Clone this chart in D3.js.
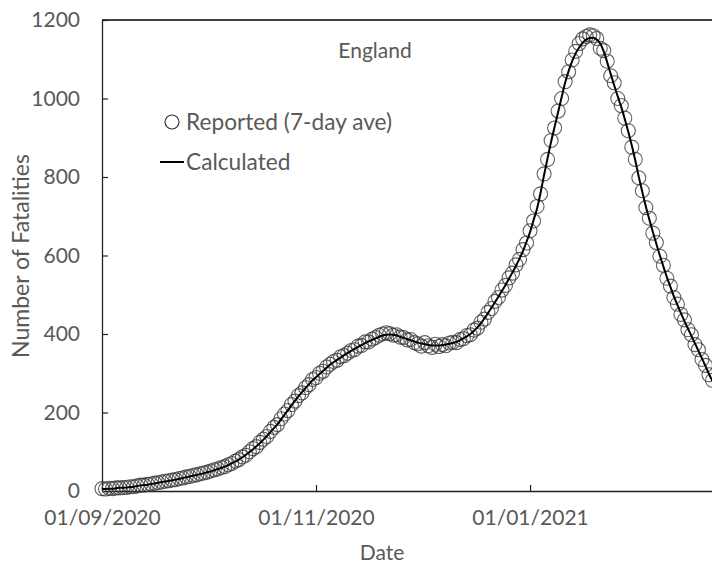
<!DOCTYPE html>
<html>
<head>
<meta charset="utf-8">
<script src="https://cdn.jsdelivr.net/npm/d3@7"></script>
<style>
  body { margin: 0; background: #fff; }
  text { font-family: Lato, "Open Sans", sans-serif; fill: #595959; }
</style>
</head>
<body>
<div id="chart"></div>
<script>
// first day of both series, one value per day after it
let startDate = new Date(2020, 8, 1);

// reported deaths, 7-day average
let reported = [
    6, 5, 7, 6, 8, 8, 9, 9, 11, 11,
    13, 15, 15, 17, 18, 20, 21, 23, 25, 26,
    28, 29, 32, 33, 36, 37, 40, 41, 44, 46,
    48, 51, 54, 56, 60, 62, 67, 70, 76, 80,
    87, 91, 100, 108, 113, 124, 132, 139, 152, 162,
    169, 184, 196, 205, 220, 229, 243, 250, 263, 271,
    284, 289, 300, 305, 316, 323, 330, 333, 342, 345,
    351, 358, 360, 369, 371, 380, 380, 387, 391, 397,
    400, 403, 401, 397, 398, 392, 391, 385, 386, 378,
    375, 369, 378, 370, 366, 374, 368, 373, 370, 377,
    379, 378, 386, 388, 396, 398, 410, 415, 430, 438,
    455, 465, 483, 493, 512, 524, 543, 555, 576, 590,
    615, 632, 663, 688, 725, 757, 808, 845, 893, 925,
    968, 1000, 1043, 1068, 1098, 1120, 1140, 1152, 1158, 1162,
    1160, 1153, 1128, 1122, 1095, 1058, 1040, 1000, 982, 950,
    918, 876, 845, 798, 765, 722, 695, 657, 633, 598,
    575, 542, 522, 493, 476, 450, 436, 411, 398, 373,
    360, 335, 320, 296, 282
];

// model output
let calculated = [
    5, 5, 6, 6, 7, 8, 8, 9, 10, 11,
    13, 14, 15, 16, 18, 19, 21, 23, 24, 26,
    27, 29, 31, 33, 35, 37, 39, 41, 43, 45,
    48, 50, 53, 56, 59, 62, 66, 71, 75, 80,
    86, 92, 99, 106, 114, 122, 131, 140, 150, 160,
    170, 182, 194, 206, 218, 230, 241, 252, 262, 272,
    282, 290, 298, 306, 314, 322, 328, 334, 340, 346,
    352, 357, 362, 367, 372, 377, 381, 385, 389, 393,
    396, 398, 399, 398, 396, 393, 390, 387, 384, 381,
    378, 376, 374, 372, 371, 371, 371, 372, 373, 375,
    377, 380, 384, 389, 394, 400, 408, 417, 427, 440,
    453, 467, 481, 495, 510, 525, 541, 557, 574, 592,
    612, 635, 660, 690, 720, 760, 805, 848, 890, 928,
    965, 1003, 1040, 1070, 1095, 1115, 1130, 1142, 1150, 1154,
    1155, 1150, 1140, 1120, 1092, 1062, 1033, 1005, 978, 948,
    915, 880, 842, 800, 762, 725, 692, 660, 630, 600,
    572, 545, 520, 496, 474, 453, 433, 414, 395, 376,
    357, 338, 318, 298, 280
];

let xTickDates = [new Date(2020, 8, 1), new Date(2020, 10, 1), new Date(2021, 0, 1)];
let yTicks = [0, 200, 400, 600, 800, 1000, 1200];

let W = 712, H = 564;
let margin = {top: 20, right: -4, bottom: 73, left: 102};

let svg = d3.select("#chart").append("svg")
    .attr("width", W)
    .attr("height", H);

let x = d3.scaleTime()
    .domain([startDate, d3.timeDay.offset(startDate, 175)])
    .range([margin.left, W - margin.right]);

let y = d3.scaleLinear()
    .domain([0, 1200])
    .range([H - margin.bottom, margin.top]);

let day = function (i) { return d3.timeDay.offset(startDate, i); };

// clip marks to the plot area (the right side runs off the picture)
svg.append("clipPath").attr("id", "plot-clip")
    .append("rect")
    .attr("x", margin.left - 10).attr("y", margin.top - 10)
    .attr("width", W).attr("height", H - margin.top - margin.bottom + 20);

// top border
svg.append("line")
    .attr("x1", margin.left).attr("x2", W)
    .attr("y1", margin.top).attr("y2", margin.top)
    .attr("stroke", "#000").attr("stroke-width", 1.3);

// axes
let xAxis = svg.append("g")
    .attr("transform", "translate(0," + (H - margin.bottom) + ")")
    .call(d3.axisBottom(x).tickValues(xTickDates).tickFormat(d3.timeFormat("%d/%m/%Y"))
        .tickSizeInner(-6).tickSizeOuter(0).tickPadding(19));

let yAxis = svg.append("g")
    .attr("transform", "translate(" + margin.left + ",0)")
    .call(d3.axisLeft(y).tickValues(yTicks).tickFormat(d3.format("d"))
        .tickSizeInner(-6).tickSizeOuter(0).tickPadding(22));

svg.selectAll(".domain").attr("stroke", "#222").attr("stroke-width", 1.3);
svg.selectAll(".tick line").attr("stroke", "#222").attr("stroke-width", 1.2);
svg.selectAll(".tick text")
    .style("font-family", "Lato, sans-serif")
    .style("font-size", "21px")
    .attr("fill", "#595959");
xAxis.selectAll(".tick line").filter(function (d) { return +d === +startDate; }).remove();
yAxis.selectAll(".tick line").filter(function (d) { return d === 0; }).remove();

// axis titles
svg.append("text")
    .attr("x", 382).attr("y", 560)
    .attr("text-anchor", "middle")
    .style("font-size", "21px")
    .text("Date");

svg.append("text")
    .attr("transform", "translate(29,256) rotate(-90)")
    .attr("text-anchor", "middle")
    .style("font-size", "23px")
    .text("Number of Fatalities");

// title
svg.append("text")
    .attr("x", 375).attr("y", 58)
    .attr("text-anchor", "middle")
    .style("font-size", "21px")
    .text("England");

// data
let plot = svg.append("g").attr("clip-path", "url(#plot-clip)");

plot.selectAll("circle")
    .data(reported)
    .enter()
    .append("circle")
    .attr("cx", function (d, i) { return x(day(i)); })
    .attr("cy", function (d) { return y(d); })
    .attr("r", 7)
    .attr("fill", "none")
    .attr("stroke", "#3a3a3a")
    .attr("stroke-opacity", 0.8)
    .attr("stroke-width", 1.1);

let line = d3.line()
    .x(function (d, i) { return x(day(i)); })
    .y(function (d) { return y(d); })
    .curve(d3.curveMonotoneX);

plot.append("path")
    .datum(calculated)
    .attr("d", line)
    .attr("fill", "none")
    .attr("stroke", "#000")
    .attr("stroke-width", 2);

// legend
let legend = svg.append("g");
legend.append("circle")
    .attr("cx", 172).attr("cy", 122).attr("r", 7)
    .attr("fill", "none").attr("stroke", "#333").attr("stroke-width", 1.2);
legend.append("text")
    .attr("x", 186).attr("y", 130)
    .style("font-size", "22.7px")
    .text("Reported (7-day ave)");
legend.append("line")
    .attr("x1", 160).attr("x2", 184)
    .attr("y1", 162).attr("y2", 162)
    .attr("stroke", "#000").attr("stroke-width", 2);
legend.append("text")
    .attr("x", 186).attr("y", 170)
    .style("font-size", "22.7px")
    .text("Calculated");
</script>
</body>
</html>
